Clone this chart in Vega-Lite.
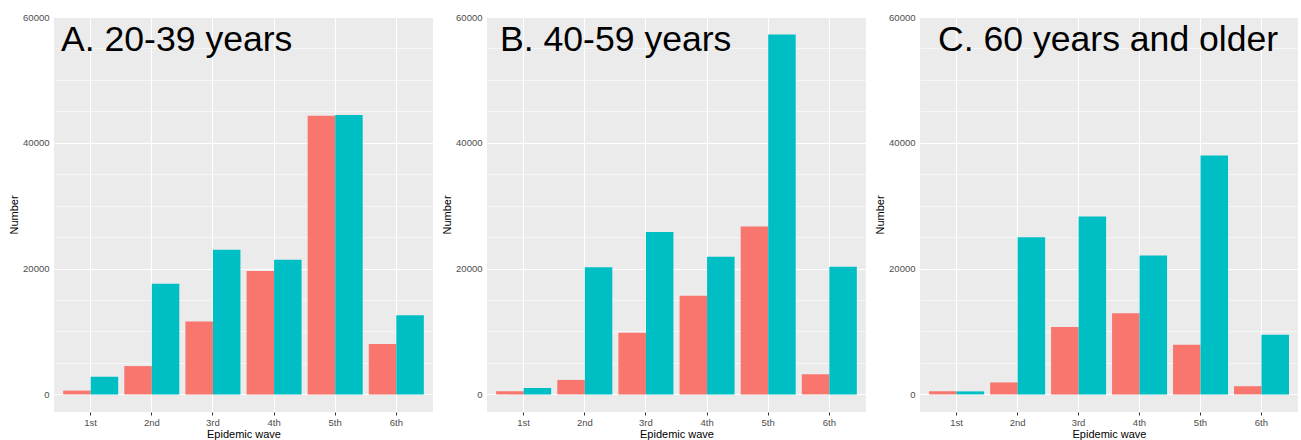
{
  "$schema": "https://vega.github.io/schema/vega-lite/v6.json",
  "padding": {"left": 8, "top": 12, "right": 4, "bottom": 2},
  "spacing": 8,
  "data": {"values": [
    {"panel": "A", "wave": "1st", "group": "G1", "n": 600},
    {"panel": "A", "wave": "1st", "group": "G2", "n": 2800},
    {"panel": "A", "wave": "2nd", "group": "G1", "n": 4500},
    {"panel": "A", "wave": "2nd", "group": "G2", "n": 17600},
    {"panel": "A", "wave": "3rd", "group": "G1", "n": 11600},
    {"panel": "A", "wave": "3rd", "group": "G2", "n": 23000},
    {"panel": "A", "wave": "4th", "group": "G1", "n": 19600},
    {"panel": "A", "wave": "4th", "group": "G2", "n": 21400},
    {"panel": "A", "wave": "5th", "group": "G1", "n": 44300},
    {"panel": "A", "wave": "5th", "group": "G2", "n": 44400},
    {"panel": "A", "wave": "6th", "group": "G1", "n": 8000},
    {"panel": "A", "wave": "6th", "group": "G2", "n": 12600},
    {"panel": "B", "wave": "1st", "group": "G1", "n": 500},
    {"panel": "B", "wave": "1st", "group": "G2", "n": 1000},
    {"panel": "B", "wave": "2nd", "group": "G1", "n": 2300},
    {"panel": "B", "wave": "2nd", "group": "G2", "n": 20200},
    {"panel": "B", "wave": "3rd", "group": "G1", "n": 9800},
    {"panel": "B", "wave": "3rd", "group": "G2", "n": 25800},
    {"panel": "B", "wave": "4th", "group": "G1", "n": 15700},
    {"panel": "B", "wave": "4th", "group": "G2", "n": 21900},
    {"panel": "B", "wave": "5th", "group": "G1", "n": 26700},
    {"panel": "B", "wave": "5th", "group": "G2", "n": 57200},
    {"panel": "B", "wave": "6th", "group": "G1", "n": 3200},
    {"panel": "B", "wave": "6th", "group": "G2", "n": 20300},
    {"panel": "C", "wave": "1st", "group": "G1", "n": 500},
    {"panel": "C", "wave": "1st", "group": "G2", "n": 480},
    {"panel": "C", "wave": "2nd", "group": "G1", "n": 1900},
    {"panel": "C", "wave": "2nd", "group": "G2", "n": 25000},
    {"panel": "C", "wave": "3rd", "group": "G1", "n": 10700},
    {"panel": "C", "wave": "3rd", "group": "G2", "n": 28300},
    {"panel": "C", "wave": "4th", "group": "G1", "n": 12900},
    {"panel": "C", "wave": "4th", "group": "G2", "n": 22100},
    {"panel": "C", "wave": "5th", "group": "G1", "n": 7900},
    {"panel": "C", "wave": "5th", "group": "G2", "n": 38000},
    {"panel": "C", "wave": "6th", "group": "G1", "n": 1300},
    {"panel": "C", "wave": "6th", "group": "G2", "n": 9500}
  ]},
  "hconcat": [
    {
      "width": 379, "height": 395,
      "title": {"text": "A. 20-39 years", "dx": 7},
      "transform": [{"filter": "datum.panel === 'A'"}],
      "mark": {"type": "bar"},
      "encoding": {
        "x": {"field": "wave", "type": "nominal", "title": "Epidemic wave", "scale": {"paddingInner": 0.1, "paddingOuter": 0.15}},
        "xOffset": {"field": "group", "type": "nominal", "scale": {"paddingInner": 0, "paddingOuter": 0}},
        "y": {"field": "n", "type": "quantitative", "title": "Number", "scale": {"domain": [-2800, 60000], "nice": false, "zero": false}},
        "color": {"field": "group", "type": "nominal", "legend": null, "scale": {"domain": ["G1", "G2"], "range": ["#F8766D", "#00BFC4"]}}
      }
    },
    {
      "width": 379, "height": 395,
      "title": {"text": "B. 40-59 years", "dx": 13},
      "transform": [{"filter": "datum.panel === 'B'"}],
      "mark": {"type": "bar"},
      "encoding": {
        "x": {"field": "wave", "type": "nominal", "title": "Epidemic wave", "scale": {"paddingInner": 0.1, "paddingOuter": 0.15}},
        "xOffset": {"field": "group", "type": "nominal", "scale": {"paddingInner": 0, "paddingOuter": 0}},
        "y": {"field": "n", "type": "quantitative", "title": "Number", "scale": {"domain": [-2800, 60000], "nice": false, "zero": false}},
        "color": {"field": "group", "type": "nominal", "legend": null, "scale": {"domain": ["G1", "G2"], "range": ["#F8766D", "#00BFC4"]}}
      }
    },
    {
      "width": 378, "height": 395,
      "title": {"text": "C. 60 years and older", "dx": 18},
      "transform": [{"filter": "datum.panel === 'C'"}],
      "mark": {"type": "bar"},
      "encoding": {
        "x": {"field": "wave", "type": "nominal", "title": "Epidemic wave", "scale": {"paddingInner": 0.1, "paddingOuter": 0.15}},
        "xOffset": {"field": "group", "type": "nominal", "scale": {"paddingInner": 0, "paddingOuter": 0}},
        "y": {"field": "n", "type": "quantitative", "title": "Number", "scale": {"domain": [-2800, 60000], "nice": false, "zero": false}},
        "color": {"field": "group", "type": "nominal", "legend": null, "scale": {"domain": ["G1", "G2"], "range": ["#F8766D", "#00BFC4"]}}
      }
    }
  ],
  "resolve": {"scale": {"color": "independent"}},
  "config": {
    "font": "Liberation Sans",
    "view": {"fill": "#EBEBEB", "stroke": null},
    "title": {"anchor": "start", "orient": "top", "frame": "group", "offset": -47, "fontSize": 35.6, "fontWeight": "normal", "color": "#000000", "font": "Liberation Sans"},
    "axis": {
      "domain": false,
      "gridColor": "#FFFFFF",
      "tickColor": "#333333",
      "tickSize": 3,
      "labelColor": "#4D4D4D",
      "labelFontSize": 9.5,
      "labelPadding": 2,
      "titleFontSize": 11,
      "titleFontWeight": "normal",
      "titleColor": "#000000"
    },
    "axisX": {"grid": true, "gridWidth": 1.1, "labelAngle": 0, "titlePadding": 2},
    "axisY": {
      "grid": true,
      "values": [0, 10000, 20000, 30000, 40000, 50000, 60000],
      "format": "d",
      "labelExpr": "datum.value % 20000 === 0 ? datum.label : ''",
      "gridWidth": {"condition": {"test": "datum.value % 20000 === 0", "value": 1.1}, "value": 0.55},
      "tickOpacity": {"condition": {"test": "datum.value % 20000 === 0", "value": 1}, "value": 0},
      "titlePadding": 3
    }
  }
}
